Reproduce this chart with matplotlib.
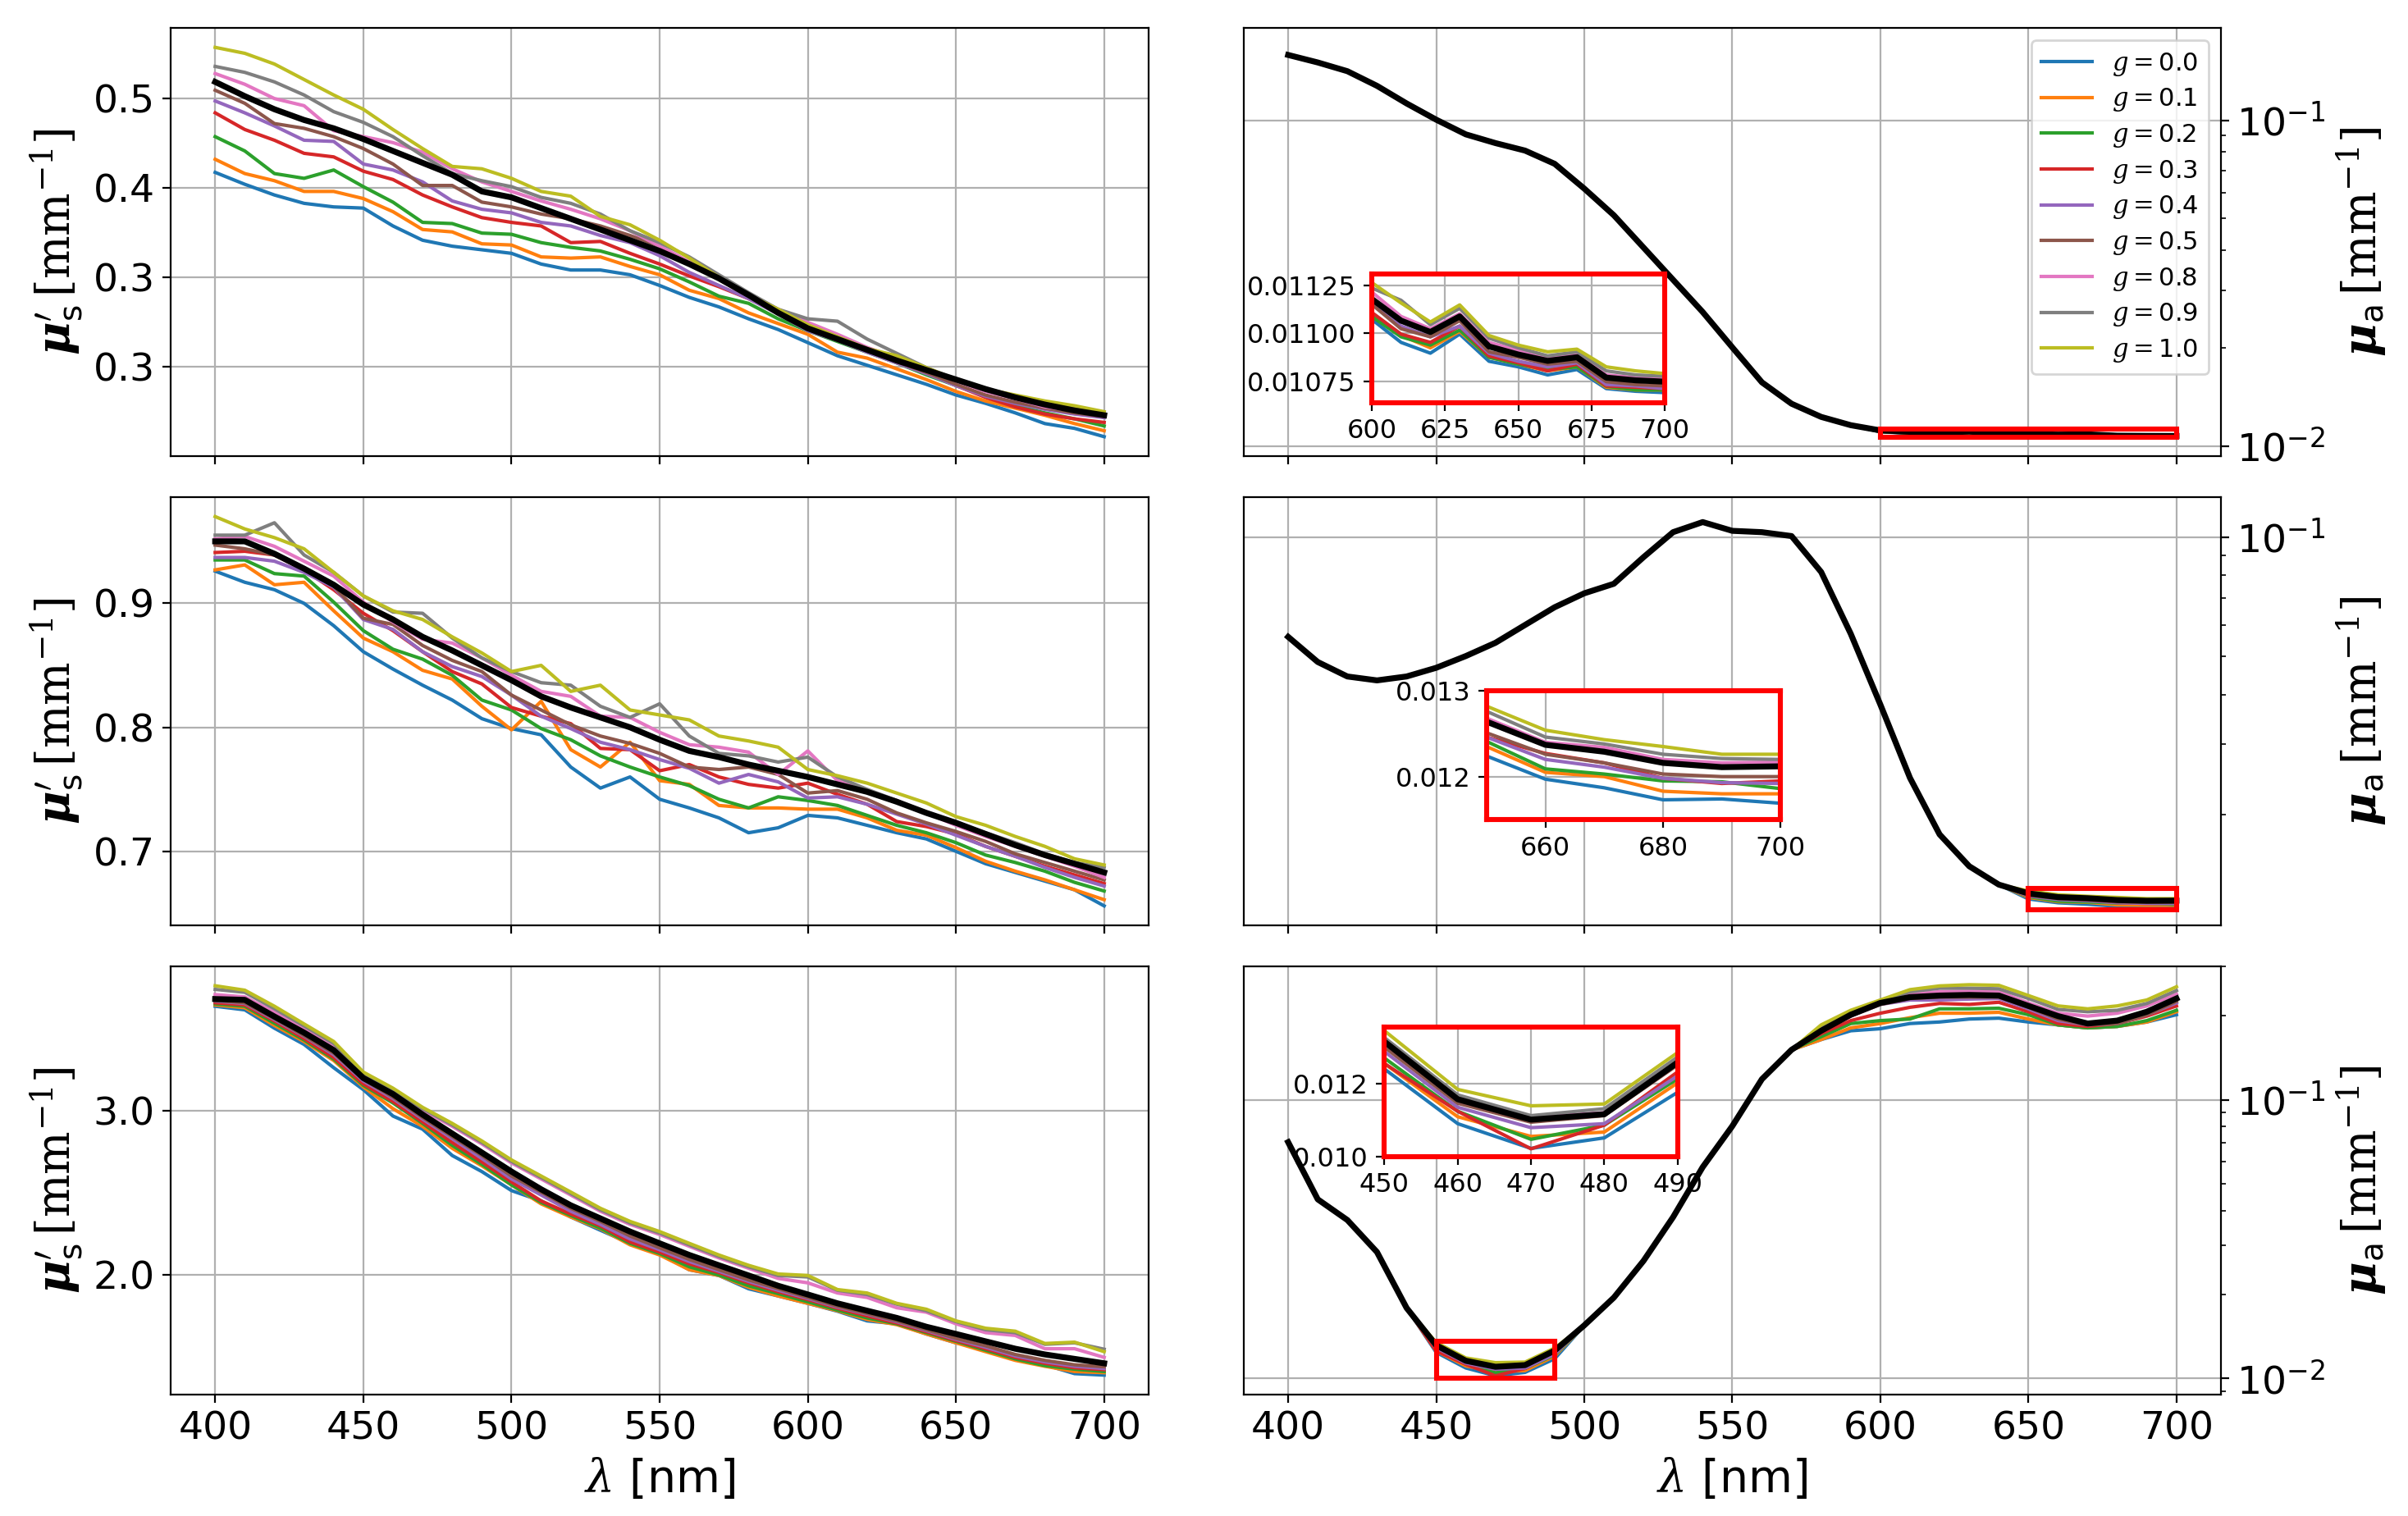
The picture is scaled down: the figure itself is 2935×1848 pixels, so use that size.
import numpy as np

import matplotlib as m
m.use('Agg')
import matplotlib.pyplot as plt
from matplotlib.ticker import FormatStrFormatter, NullFormatter
from matplotlib.patches import Rectangle


wl = np.arange(400, 701, 10)
g_vals = [0.0, 0.1, 0.2, 0.3, 0.4, 0.5, 0.8, 0.9, 1.0]
colors = ['C0', 'C1', 'C2', 'C3', 'C4', 'C5', 'C6', 'C7', 'C8']

# ---- reduced scattering, top row (one list per g, same order as g_vals)
mus_top = [
  [0.438, 0.428, 0.419, 0.412, 0.409, 0.408, 0.393, 0.381, 0.376, 0.373, 0.370, 0.361, 0.356, 0.356, 0.352, 0.343, 0.333, 0.325, 0.315, 0.306, 0.295, 0.284, 0.276, 0.268, 0.260, 0.251, 0.244, 0.236, 0.227, 0.223, 0.216],
  [0.449, 0.437, 0.431, 0.422, 0.422, 0.416, 0.405, 0.390, 0.388, 0.378, 0.377, 0.367, 0.366, 0.367, 0.359, 0.352, 0.339, 0.332, 0.320, 0.311, 0.302, 0.287, 0.282, 0.273, 0.264, 0.254, 0.246, 0.240, 0.234, 0.227, 0.221],
  [0.468, 0.456, 0.437, 0.433, 0.440, 0.426, 0.413, 0.396, 0.395, 0.387, 0.386, 0.379, 0.375, 0.372, 0.365, 0.357, 0.346, 0.334, 0.328, 0.315, 0.305, 0.296, 0.287, 0.278, 0.268, 0.259, 0.250, 0.242, 0.236, 0.231, 0.225],
  [0.488, 0.474, 0.465, 0.454, 0.451, 0.439, 0.432, 0.419, 0.409, 0.400, 0.396, 0.393, 0.379, 0.380, 0.370, 0.361, 0.351, 0.342, 0.332, 0.320, 0.307, 0.300, 0.290, 0.279, 0.270, 0.259, 0.249, 0.241, 0.235, 0.231, 0.228],
  [0.498, 0.488, 0.477, 0.465, 0.464, 0.445, 0.440, 0.430, 0.414, 0.407, 0.404, 0.396, 0.393, 0.385, 0.379, 0.368, 0.354, 0.343, 0.332, 0.319, 0.305, 0.297, 0.287, 0.278, 0.269, 0.259, 0.250, 0.244, 0.239, 0.235, 0.232],
  [0.507, 0.496, 0.479, 0.475, 0.468, 0.458, 0.445, 0.427, 0.427, 0.413, 0.409, 0.403, 0.399, 0.393, 0.385, 0.376, 0.361, 0.348, 0.334, 0.320, 0.306, 0.300, 0.290, 0.279, 0.270, 0.260, 0.251, 0.245, 0.240, 0.236, 0.233],
  [0.521, 0.512, 0.500, 0.494, 0.473, 0.468, 0.463, 0.455, 0.441, 0.430, 0.422, 0.414, 0.407, 0.399, 0.389, 0.376, 0.363, 0.349, 0.335, 0.323, 0.312, 0.302, 0.291, 0.282, 0.273, 0.263, 0.254, 0.248, 0.241, 0.238, 0.234],
  [0.527, 0.522, 0.514, 0.503, 0.489, 0.480, 0.468, 0.452, 0.437, 0.431, 0.426, 0.417, 0.412, 0.403, 0.389, 0.379, 0.367, 0.352, 0.337, 0.323, 0.315, 0.313, 0.298, 0.286, 0.274, 0.264, 0.255, 0.249, 0.244, 0.240, 0.236],
  [0.543, 0.538, 0.529, 0.516, 0.503, 0.491, 0.474, 0.458, 0.443, 0.441, 0.433, 0.422, 0.418, 0.401, 0.394, 0.381, 0.366, 0.350, 0.335, 0.323, 0.310, 0.300, 0.290, 0.284, 0.274, 0.264, 0.256, 0.251, 0.246, 0.242, 0.237],
]
mus_top_ref = [0.514, 0.502, 0.491, 0.482, 0.475, 0.466, 0.456, 0.446, 0.436, 0.422, 0.417, 0.408, 0.399, 0.390, 0.381, 0.372, 0.361, 0.349, 0.335, 0.320, 0.307, 0.298, 0.289, 0.280, 0.272, 0.264, 0.256, 0.249, 0.243, 0.238, 0.234]

# ---- reduced scattering, middle row
mus_mid = [
  [0.926, 0.917, 0.911, 0.900, 0.882, 0.861, 0.847, 0.834, 0.822, 0.807, 0.799, 0.794, 0.768, 0.751, 0.760, 0.742, 0.735, 0.727, 0.715, 0.719, 0.729, 0.727, 0.721, 0.715, 0.710, 0.700, 0.690, 0.683, 0.676, 0.669, 0.656],
  [0.927, 0.931, 0.915, 0.917, 0.894, 0.872, 0.861, 0.846, 0.839, 0.817, 0.798, 0.821, 0.782, 0.768, 0.788, 0.757, 0.754, 0.737, 0.735, 0.735, 0.734, 0.734, 0.727, 0.717, 0.713, 0.703, 0.692, 0.684, 0.677, 0.669, 0.661],
  [0.935, 0.935, 0.924, 0.922, 0.901, 0.878, 0.863, 0.855, 0.842, 0.822, 0.814, 0.799, 0.790, 0.777, 0.768, 0.760, 0.753, 0.742, 0.735, 0.744, 0.741, 0.737, 0.729, 0.721, 0.715, 0.707, 0.697, 0.691, 0.684, 0.675, 0.668],
  [0.941, 0.942, 0.939, 0.927, 0.911, 0.892, 0.878, 0.861, 0.845, 0.835, 0.816, 0.809, 0.803, 0.783, 0.782, 0.765, 0.770, 0.760, 0.754, 0.751, 0.755, 0.746, 0.738, 0.724, 0.720, 0.714, 0.704, 0.696, 0.688, 0.681, 0.674],
  [0.937, 0.937, 0.934, 0.925, 0.913, 0.887, 0.879, 0.861, 0.849, 0.841, 0.826, 0.809, 0.799, 0.788, 0.782, 0.774, 0.767, 0.755, 0.762, 0.756, 0.743, 0.744, 0.738, 0.730, 0.722, 0.713, 0.704, 0.696, 0.687, 0.679, 0.672],
  [0.947, 0.944, 0.939, 0.928, 0.914, 0.888, 0.883, 0.866, 0.854, 0.845, 0.826, 0.814, 0.802, 0.793, 0.787, 0.779, 0.768, 0.766, 0.768, 0.762, 0.747, 0.749, 0.742, 0.731, 0.723, 0.716, 0.708, 0.698, 0.691, 0.684, 0.677],
  [0.952, 0.954, 0.946, 0.934, 0.922, 0.901, 0.885, 0.871, 0.868, 0.856, 0.842, 0.829, 0.825, 0.809, 0.808, 0.796, 0.786, 0.784, 0.780, 0.762, 0.781, 0.757, 0.749, 0.741, 0.731, 0.721, 0.712, 0.704, 0.696, 0.688, 0.679],
  [0.955, 0.955, 0.965, 0.939, 0.925, 0.906, 0.893, 0.892, 0.872, 0.856, 0.845, 0.836, 0.834, 0.817, 0.808, 0.819, 0.793, 0.779, 0.777, 0.772, 0.776, 0.760, 0.750, 0.741, 0.731, 0.722, 0.715, 0.707, 0.698, 0.691, 0.687],
  [0.970, 0.960, 0.953, 0.944, 0.925, 0.906, 0.894, 0.887, 0.873, 0.860, 0.845, 0.850, 0.829, 0.834, 0.814, 0.810, 0.806, 0.793, 0.789, 0.784, 0.766, 0.761, 0.755, 0.747, 0.739, 0.728, 0.721, 0.712, 0.704, 0.694, 0.689],
]
mus_mid_ref = [0.950, 0.950, 0.940, 0.928, 0.915, 0.899, 0.887, 0.873, 0.862, 0.850, 0.838, 0.825, 0.816, 0.808, 0.800, 0.790, 0.781, 0.776, 0.770, 0.765, 0.760, 0.754, 0.748, 0.740, 0.731, 0.723, 0.714, 0.705, 0.697, 0.690, 0.683]

# ---- reduced scattering, bottom row
mus_bot = [
  [3.638, 3.616, 3.504, 3.405, 3.263, 3.129, 2.968, 2.888, 2.727, 2.629, 2.513, 2.450, 2.352, 2.271, 2.191, 2.129, 2.030, 1.995, 1.914, 1.870, 1.825, 1.777, 1.718, 1.700, 1.638, 1.584, 1.557, 1.486, 1.450, 1.396, 1.387],
  [3.646, 3.629, 3.521, 3.423, 3.307, 3.146, 3.013, 2.905, 2.771, 2.664, 2.548, 2.432, 2.352, 2.280, 2.182, 2.120, 2.030, 1.995, 1.923, 1.870, 1.825, 1.780, 1.727, 1.695, 1.638, 1.584, 1.530, 1.477, 1.441, 1.409, 1.402],
  [3.652, 3.638, 3.534, 3.432, 3.316, 3.155, 3.048, 2.923, 2.789, 2.673, 2.548, 2.441, 2.361, 2.284, 2.191, 2.129, 2.048, 1.998, 1.932, 1.884, 1.834, 1.784, 1.736, 1.700, 1.646, 1.593, 1.539, 1.486, 1.445, 1.423, 1.409],
  [3.659, 3.646, 3.548, 3.441, 3.325, 3.164, 3.057, 2.932, 2.807, 2.688, 2.566, 2.450, 2.370, 2.298, 2.200, 2.138, 2.066, 2.013, 1.950, 1.896, 1.848, 1.795, 1.748, 1.705, 1.652, 1.598, 1.548, 1.495, 1.459, 1.432, 1.420],
  [3.670, 3.655, 3.557, 3.455, 3.343, 3.182, 3.075, 2.950, 2.830, 2.709, 2.584, 2.486, 2.387, 2.307, 2.218, 2.152, 2.080, 2.021, 1.959, 1.905, 1.855, 1.802, 1.759, 1.713, 1.659, 1.605, 1.557, 1.504, 1.468, 1.441, 1.427],
  [3.673, 3.659, 3.563, 3.459, 3.352, 3.191, 3.084, 2.959, 2.843, 2.727, 2.602, 2.504, 2.405, 2.325, 2.236, 2.164, 2.093, 2.030, 1.968, 1.914, 1.861, 1.807, 1.763, 1.718, 1.664, 1.611, 1.566, 1.513, 1.477, 1.450, 1.438],
  [3.709, 3.695, 3.602, 3.504, 3.396, 3.227, 3.120, 3.004, 2.905, 2.798, 2.682, 2.584, 2.486, 2.387, 2.307, 2.245, 2.173, 2.102, 2.039, 1.977, 1.950, 1.888, 1.861, 1.798, 1.771, 1.700, 1.646, 1.629, 1.548, 1.548, 1.495],
  [3.741, 3.723, 3.623, 3.518, 3.411, 3.230, 3.129, 3.013, 2.914, 2.807, 2.691, 2.593, 2.495, 2.396, 2.316, 2.254, 2.182, 2.111, 2.048, 1.995, 1.986, 1.905, 1.879, 1.820, 1.780, 1.713, 1.664, 1.646, 1.575, 1.584, 1.545],
  [3.763, 3.736, 3.638, 3.530, 3.423, 3.236, 3.138, 3.021, 2.923, 2.816, 2.700, 2.602, 2.504, 2.405, 2.325, 2.263, 2.191, 2.120, 2.057, 2.004, 1.995, 1.909, 1.888, 1.825, 1.789, 1.718, 1.673, 1.655, 1.580, 1.588, 1.530],
]
mus_bot_ref = [3.682, 3.677, 3.575, 3.477, 3.370, 3.200, 3.102, 2.977, 2.861, 2.745, 2.629, 2.521, 2.423, 2.343, 2.263, 2.191, 2.120, 2.057, 1.995, 1.932, 1.879, 1.825, 1.780, 1.736, 1.682, 1.638, 1.593, 1.548, 1.513, 1.486, 1.459]

# ---- absorption, top row: 400-590 nm common to all g, 600-700 nm per g
mua_top_common = [0.1586, 0.1504, 0.1414, 0.1275, 0.1126, 0.1004, 0.0905, 0.0851, 0.0807, 0.0735, 0.0617, 0.0511, 0.0407, 0.0324, 0.0258, 0.0201, 0.0157, 0.0135, 0.0123, 0.0116]
mua_top_tail = [
  [0.011073, 0.010953, 0.010897, 0.010996, 0.010855, 0.010826, 0.010784, 0.010812, 0.010713, 0.010699, 0.010692],
  [0.011102, 0.010989, 0.010925, 0.011010, 0.010876, 0.010840, 0.010805, 0.010826, 0.010720, 0.010706, 0.010706],
  [0.011088, 0.010982, 0.010939, 0.011017, 0.010876, 0.010840, 0.010812, 0.010826, 0.010725, 0.010706, 0.010706],
  [0.011109, 0.010996, 0.010953, 0.011038, 0.010883, 0.010847, 0.010805, 0.010840, 0.010727, 0.010720, 0.010713],
  [0.011158, 0.011038, 0.010982, 0.011038, 0.010897, 0.010855, 0.010826, 0.010847, 0.010734, 0.010727, 0.010713],
  [0.011151, 0.011024, 0.010982, 0.011066, 0.010904, 0.010876, 0.010840, 0.010855, 0.010749, 0.010734, 0.010727],
  [0.011215, 0.011088, 0.011024, 0.011102, 0.010953, 0.010911, 0.010876, 0.010890, 0.010784, 0.010770, 0.010767],
  [0.011236, 0.011172, 0.011045, 0.011130, 0.010975, 0.010925, 0.010883, 0.010904, 0.010805, 0.010784, 0.010777],
  [0.011264, 0.011158, 0.011059, 0.011148, 0.010989, 0.010939, 0.010904, 0.010918, 0.010826, 0.010805, 0.010791],
]
mua_top_ref_tail = [0.011179, 0.011066, 0.011007, 0.011088, 0.010932, 0.010890, 0.010857, 0.010876, 0.010770, 0.010756, 0.010749]

# ---- absorption, middle row: 400-640 nm common, 650-700 nm per g
mua_mid_common = [0.0560, 0.0484, 0.0445, 0.0435, 0.0445, 0.0468, 0.0501, 0.0541, 0.0600, 0.0665, 0.0721, 0.0762, 0.0889, 0.1028, 0.1090, 0.1036, 0.1028, 0.1005, 0.0816, 0.0570, 0.0378, 0.0247, 0.0178, 0.0148, 0.0133]
mua_mid_tail = [
  [0.01224, 0.01197, 0.01187, 0.01173, 0.01174, 0.01169],
  [0.01235, 0.01205, 0.01200, 0.01183, 0.01180, 0.01180],
  [0.01241, 0.01209, 0.01203, 0.01195, 0.01194, 0.01186],
  [0.01246, 0.01227, 0.01216, 0.01198, 0.01192, 0.01195],
  [0.01246, 0.01220, 0.01211, 0.01198, 0.01193, 0.01192],
  [0.01251, 0.01226, 0.01216, 0.01203, 0.01200, 0.01200],
  [0.01268, 0.01240, 0.01234, 0.01220, 0.01216, 0.01217],
  [0.01276, 0.01246, 0.01238, 0.01226, 0.01221, 0.01220],
  [0.01282, 0.01254, 0.01243, 0.01235, 0.01226, 0.01226],
]
mua_mid_ref_tail = [0.01264, 0.01237, 0.01229, 0.01216, 0.01211, 0.01212]

# ---- absorption, bottom row: 400-440 common, 450-490 per g, 500-570 common, 580-700 per g
mua_bot_head = [0.0704, 0.0439, 0.0370, 0.0284, 0.0179]
mua_bot_dip = [
  [0.01240, 0.01090, 0.01022, 0.01051, 0.01176],
  [0.01255, 0.01109, 0.01055, 0.01067, 0.01202],
  [0.01270, 0.01124, 0.01047, 0.01086, 0.01213],
  [0.01255, 0.01124, 0.01021, 0.01086, 0.01232],
  [0.01288, 0.01135, 0.01079, 0.01090, 0.01221],
  [0.01300, 0.01146, 0.01094, 0.01112, 0.01251],
  [0.01311, 0.01161, 0.01107, 0.01120, 0.01262],
  [0.01326, 0.01169, 0.01112, 0.01131, 0.01273],
  [0.01345, 0.01184, 0.01139, 0.01144, 0.01285],
]
mua_bot_ref_dip = [0.01315, 0.01157, 0.01101, 0.01116, 0.01258]
mua_bot_mid = [0.0155, 0.0195, 0.0264, 0.0379, 0.0573, 0.0804, 0.1185, 0.1510]
mua_bot_tail = [
  [0.1643, 0.1767, 0.1797, 0.1876, 0.1900, 0.1947, 0.1961, 0.1900, 0.1855, 0.1810, 0.1832, 0.1900, 0.2018],
  [0.1643, 0.1810, 0.1876, 0.1969, 0.2043, 0.2043, 0.2058, 0.1947, 0.1855, 0.1810, 0.1832, 0.1900, 0.2068],
  [0.1683, 0.1876, 0.1922, 0.1947, 0.2118, 0.2118, 0.2129, 0.2018, 0.1855, 0.1810, 0.1832, 0.1922, 0.2093],
  [0.1724, 0.1922, 0.2043, 0.2145, 0.2214, 0.2197, 0.2236, 0.2068, 0.1876, 0.1832, 0.1876, 0.1995, 0.2170],
  [0.1767, 0.1995, 0.2197, 0.2279, 0.2279, 0.2296, 0.2307, 0.2118, 0.1922, 0.1855, 0.1876, 0.2018, 0.2224],
  [0.1767, 0.1995, 0.2197, 0.2307, 0.2334, 0.2334, 0.2334, 0.2145, 0.1947, 0.1855, 0.1876, 0.2018, 0.2252],
  [0.1810, 0.2043, 0.2224, 0.2393, 0.2440, 0.2451, 0.2440, 0.2224, 0.2043, 0.1995, 0.2043, 0.2170, 0.2393],
  [0.1832, 0.2068, 0.2252, 0.2440, 0.2512, 0.2512, 0.2500, 0.2307, 0.2108, 0.2068, 0.2093, 0.2214, 0.2464],
  [0.1855, 0.2093, 0.2279, 0.2482, 0.2560, 0.2585, 0.2573, 0.2364, 0.2170, 0.2118, 0.2170, 0.2279, 0.2542],
]
mua_bot_ref_tail = [0.1767, 0.2018, 0.2224, 0.2334, 0.2364, 0.2376, 0.2364, 0.2170, 0.1995, 0.1876, 0.1922, 0.2068, 0.2307]

mus_yticks = [[0.275, 0.35, 0.425, 0.5], [0.7, 0.8, 0.9], [2.0, 3.0]]


def draw_lines(ax, series, ref):
  for g, col, y in zip(g_vals, colors, series):
    ax.plot(wl, y, color=col, lw=1.5, label=r'$g=$%.1f' % g)
  ax.plot(wl, ref, color='black', lw=2.6)


def add_inset(ax, rect, series, ref, xlim, ylim, xticks, yticks, yfmt):
  axins = ax.inset_axes(rect)
  draw_lines(axins, series, ref)
  axins.set_xlim(*xlim)
  axins.set_ylim(*ylim)
  axins.set_xticks(xticks)
  axins.set_yticks(yticks)
  axins.yaxis.set_major_formatter(FormatStrFormatter(yfmt))
  axins.tick_params(labelsize=11.5)
  axins.grid(True)
  for sp in axins.spines.values():
    sp.set_edgecolor('red')
    sp.set_linewidth(2.2)
  ax.add_patch(Rectangle((xlim[0], ylim[0]), xlim[1] - xlim[0], ylim[1] - ylim[0],
                         fill=False, edgecolor='red', lw=2.2, zorder=4))
  return axins


def main():
  plt.rc('font', family='DejaVu Sans', size=17)
  plt.rc('mathtext', fontset='dejavuserif')
  plt.rc('xtick', labelsize=17)
  plt.rc('ytick', labelsize=17)
  plt.rc('axes', labelsize=20)

  fig = plt.figure(figsize=(14.675, 9.24), dpi=200)

  bottoms = [0.6991, 0.3896, 0.0801]
  h = 0.2825
  left_axes = [fig.add_axes([0.0709, b, 0.4061, h]) for b in bottoms]
  right_axes = [fig.add_axes([0.5165, b, 0.4058, h]) for b in bottoms]

  # left column: reduced scattering
  for ax, ser, ref, yt in zip(left_axes, [mus_top, mus_mid, mus_bot],
                              [mus_top_ref, mus_mid_ref, mus_bot_ref], mus_yticks):
    draw_lines(ax, ser, ref)
    ax.set_yticks(yt)
    ax.yaxis.set_major_formatter(FormatStrFormatter('%.1f'))
    ax.set_ylabel(r'$\boldsymbol{\mu}_{\mathsf{s}}^{\prime}\,[\mathrm{mm}^{-1}]$')
    ax.grid(True)

  # right column: absorption
  mua_top = [mua_top_common + t for t in mua_top_tail]
  mua_top_ref = mua_top_common + mua_top_ref_tail
  mua_mid = [mua_mid_common + t for t in mua_mid_tail]
  mua_mid_ref = mua_mid_common + mua_mid_ref_tail
  mua_bot = [mua_bot_head + d + mua_bot_mid + t for d, t in zip(mua_bot_dip, mua_bot_tail)]
  mua_bot_ref = mua_bot_head + mua_bot_ref_dip + mua_bot_mid + mua_bot_ref_tail

  ylims = [(0.00932, 0.192), (0.0105, 0.126), (0.00875, 0.301)]
  for ax, ser, ref, yl in zip(right_axes, [mua_top, mua_mid, mua_bot],
                              [mua_top_ref, mua_mid_ref, mua_bot_ref], ylims):
    draw_lines(ax, ser, ref)
    ax.set_yscale('log')
    ax.set_ylim(*yl)
    ax.yaxis.tick_right()
    ax.yaxis.set_label_position('right')
    ax.yaxis.set_minor_formatter(NullFormatter())
    ax.set_ylabel(r'$\boldsymbol{\mu}_{\mathsf{a}}\,[\mathrm{mm}^{-1}]$')
    ax.grid(True)

  right_axes[0].legend(loc='upper right', fontsize=11, labelspacing=0.35)

  add_inset(right_axes[0], [0.131, 0.125, 0.300, 0.301], mua_top, mua_top_ref,
            (600, 700), (0.01064, 0.01131), [600, 625, 650, 675, 700],
            [0.01075, 0.011, 0.01125], '%.5f')
  add_inset(right_axes[1], [0.2485, 0.247, 0.301, 0.301], mua_mid, mua_mid_ref,
            (650, 700), (0.0115, 0.0130), [660, 680, 700],
            [0.012, 0.013], '%.3f')
  add_inset(right_axes[2], [0.144, 0.556, 0.300, 0.302], mua_bot, mua_bot_ref,
            (450, 490), (0.0100, 0.01355), [450, 460, 470, 480, 490],
            [0.010, 0.012], '%.3f')

  for ax in left_axes + right_axes:
    ax.set_xticks([400, 450, 500, 550, 600, 650, 700])
    ax.set_xlim(385, 715)
  for ax in left_axes[:2] + right_axes[:2]:
    ax.tick_params(labelbottom=False)
  left_axes[2].set_xlabel(r'$\lambda$ [nm]')
  right_axes[2].set_xlabel(r'$\lambda$ [nm]')

  plt.savefig('out.png', dpi=200)


if __name__ == '__main__':
  main()
